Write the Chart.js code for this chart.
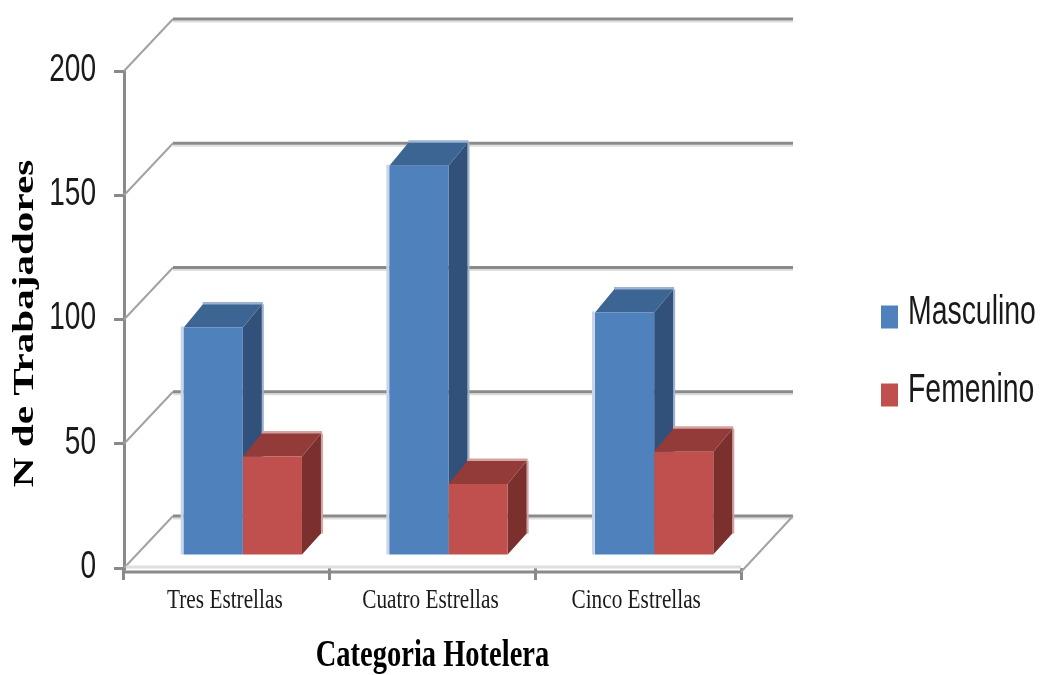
<!DOCTYPE html>
<html>
<head>
<meta charset="utf-8">
<style>
  html, body { margin: 0; background: #fff; }
  canvas { display: block; }
</style>
</head>
<body>
<canvas id="graficoHoteles" width="1041" height="675"></canvas>
<script src="https://cdn.jsdelivr.net/npm/chart.js@4/dist/chart.umd.min.js"></script>
<script>
const categorias = ['Tres Estrellas', 'Cuatro Estrellas', 'Cinco Estrellas'];
const masculino = [92, 157, 98];
const femenino = [40, 29, 42];
const marcasY = [0, 50, 100, 150, 200];

const colorEje = '#8a8a8a';
const colorEjeClaro = '#dedede';

// colores de cada serie: frente, tapa, lateral y los bordes claros
const caras = [
    { frente: '#4f81bd', tapa: '#3d6594', lateral: '#31517b', borde: '#9db2cf', bordeIzq: '#c9d6e9' },
    { frente: '#c0504d', tapa: '#933b39', lateral: '#7c302e', borde: '#d3a3a1', bordeIzq: '#e6c9c8' }
];

// profundidad de las paredes y de las barras
const fondo = { dx: 49, dy: -52 };
const barra = { dx: 19, dy: -23 };
const desplazamiento = { dx: 16, dy: -12 };

// tamanos de letra y su ajuste: el texto va estirado en vertical
const letraLeyenda = 40;
const letraEjeY = 39;
const letraCategorias = 28;
const letraTituloX = 38;
const letraTituloY = 30;
const ajusteTexto = {
    [letraLeyenda]: { sx: 0.71, dx: -10, dy: -4 },
    [letraEjeY]: { sx: 0.72, dx: 0, dy: 0 },
    [letraCategorias]: { sx: 0.76, dx: -2, dy: 0 },
    [letraTituloX]: { sx: 0.75, dx: 0, dy: 4 },
    [letraTituloY]: { sx: 1.37, dx: -4, dy: 0 }
};

function linea(ctx, x1, y1, x2, y2, color, ancho) {
    ctx.strokeStyle = color;
    ctx.lineWidth = ancho;
    ctx.beginPath();
    ctx.moveTo(x1, y1);
    ctx.lineTo(x2, y2);
    ctx.stroke();
}

function poligono(ctx, puntos, color) {
    ctx.fillStyle = color;
    ctx.beginPath();
    puntos.forEach((p, i) => i ? ctx.lineTo(p[0], p[1]) : ctx.moveTo(p[0], p[1]));
    ctx.closePath();
    ctx.fill();
}

// paredes del fondo y piso
function dibujarParedes(chart) {
    const ctx = chart.ctx;
    const { left, right, bottom } = chart.chartArea;
    const escalaY = chart.scales.y;

    marcasY.forEach(valor => {
        const y = escalaY.getPixelForValue(valor);
        linea(ctx, left, y, left + fondo.dx, y + fondo.dy, '#a2a2a2', 2);
        linea(ctx, left + fondo.dx, y + fondo.dy + 2.5, right + fondo.dx + 3, y + fondo.dy + 2.5, colorEjeClaro, 2);
        linea(ctx, left + fondo.dx, y + fondo.dy, right + fondo.dx + 3, y + fondo.dy, colorEje, 3);
    });

    linea(ctx, left + 2, bottom - 1, right, bottom - 1, colorEjeClaro, 3);
    linea(ctx, right, bottom + 4, right + fondo.dx + 3, bottom + fondo.dy, '#a2a2a2', 2);
    linea(ctx, left - 1.5, bottom + 4, right, bottom + 4, colorEje, 3);
    linea(ctx, left, bottom, left, bottom + 5, colorEje, 3);
}

// tapa y lateral de cada barra, el frente lo pinta Chart.js
function dibujarCaras(chart) {
    const ctx = chart.ctx;
    chart.data.datasets.forEach((serie, i) => {
        const color = caras[i];
        chart.getDatasetMeta(i).data.forEach(elemento => {
            const { x, y, base, width } = elemento.getProps(['x', 'y', 'base', 'width'], true);
            const izq = x - width / 2;
            const der = x + width / 2;

            if (i === 0) {
                linea(ctx, izq - 1.5, y - 1, izq - 1.5, base, color.bordeIzq, 3);
            }
            linea(ctx, izq + barra.dx, y + barra.dy - 1, der + barra.dx + 1, y + barra.dy - 1, color.borde, 3);
            linea(ctx, der + barra.dx + 1, y + barra.dy, der + barra.dx + 1, base + barra.dy + 2, color.borde, 2);

            poligono(ctx, [[der, y], [der + barra.dx, y + barra.dy], [der + barra.dx, base + barra.dy + 2], [der, base]], color.lateral);
            poligono(ctx, [[izq, y], [izq + barra.dx, y + barra.dy], [der + barra.dx, y + barra.dy], [der, y]], color.tapa);
        });
    });
}

const perspectiva = {
    id: 'perspectiva',
    afterLayout(chart) {
        // la leyenda va fuera del area del grafico, a la derecha
        const leyenda = chart.legend;
        const { width, height } = leyenda;
        leyenda.left = 843;
        leyenda.right = 843 + width;
        leyenda.top = 259;
        leyenda.bottom = 259 + height;
    },
    beforeDatasetsDraw(chart) {
        dibujarParedes(chart);
        chart.ctx.save();
        chart.ctx.translate(desplazamiento.dx, desplazamiento.dy);
        dibujarCaras(chart);
    },
    afterDatasetsDraw(chart) {
        chart.ctx.restore();
    }
};

const cty = document.getElementById('graficoHoteles').getContext('2d');

// escribe cada texto con el ancho que le toca segun su tamano de letra
const fillTextBase = cty.fillText.bind(cty);
cty.fillText = function (texto, x, y) {
    const ajuste = ajusteTexto[parseFloat(cty.font.match(/([\d.]+)px/)[1])];
    cty.save();
    cty.translate(x + ajuste.dx, y + ajuste.dy);
    cty.scale(ajuste.sx, 1);
    fillTextBase(texto, 0, 0);
    cty.restore();
};

new Chart(cty, {
    type: 'bar',
    plugins: [perspectiva],
    data: {
        labels: categorias,
        datasets: [
            { label: 'Masculino', data: masculino, backgroundColor: caras[0].frente, clip: false },
            { label: 'Femenino', data: femenino, backgroundColor: caras[1].frente, clip: false }
        ]
    },
    options: {
        responsive: false,
        animation: false,
        categoryPercentage: 0.575,
        barPercentage: 1,
        layout: { padding: { top: 71, right: 300, bottom: 0, left: 0 } },
        plugins: {
            tooltip: { enabled: false },
            legend: {
                position: 'chartArea',
                align: 'start',
                labels: {
                    boxWidth: 17,
                    boxHeight: 23,
                    padding: 38,
                    color: '#1a1a1a',
                    font: { family: '"Liberation Sans"', size: letraLeyenda }
                }
            }
        },
        scales: {
            x: {
                afterFit(escala) { escala.height = 107; },
                border: { display: false },
                grid: { drawOnChartArea: false, tickLength: 12, color: colorEje, lineWidth: 3 },
                ticks: {
                    padding: 4,
                    color: '#1a1a1a',
                    maxRotation: 0,
                    font: { family: '"Liberation Serif"', size: letraCategorias }
                },
                title: {
                    display: true,
                    text: 'Categoria Hotelera',
                    color: '#000',
                    padding: { top: 0, bottom: 0 },
                    font: { family: '"Liberation Serif"', size: letraTituloX, weight: 'bold' }
                }
            },
            y: {
                min: 0,
                max: 200,
                afterFit(escala) { escala.width = 124; },
                afterBuildTicks(escala) { escala.ticks = marcasY.map(value => ({ value })); },
                border: { color: colorEje, width: 3 },
                grid: { drawOnChartArea: false, tickLength: 10, color: colorEje, lineWidth: 3 },
                ticks: {
                    padding: 18,
                    labelOffset: -1,
                    color: '#1a1a1a',
                    font: { family: '"Liberation Sans"', size: letraEjeY }
                },
                title: {
                    display: true,
                    text: 'N de Trabajadores',
                    color: '#000',
                    padding: { top: 7, bottom: 0 },
                    font: { family: '"Liberation Serif"', size: letraTituloY, weight: 'bold' }
                }
            }
        }
    }
});
</script>
</body>
</html>
